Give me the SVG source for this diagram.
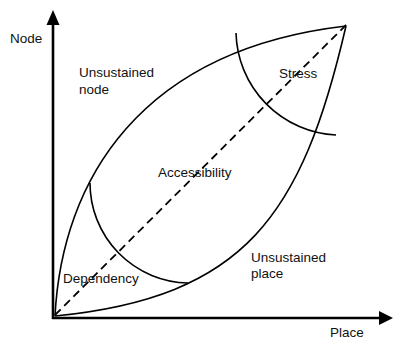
<svg xmlns="http://www.w3.org/2000/svg" width="393" height="339" viewBox="0 0 393 339">
<style>
.c{fill:none;stroke:#000;stroke-width:1.6}
.ax{fill:none;stroke:#000;stroke-width:2.6}
.d{fill:none;stroke:#000;stroke-width:1.8;stroke-dasharray:8 5}
text{font-family:"Liberation Sans",Arial,sans-serif;font-size:13.5px;fill:#111}
</style>
<rect width="393" height="339" fill="#fff"/>
<g id="axes">
<path class="ax" d="M53,319 V24"/>
<polygon points="53,10 46.5,25 59.5,25" fill="#000"/>
<path class="ax" d="M52,318 H380"/>
<polygon points="393,318 379,311 379,325" fill="#000"/>
</g>
<g id="connectors">
<path class="d" d="M55,315 L347,24"/>
<path class="c" d="M55,316 C62,180 140,50 346,26"/>
<path class="c" d="M55,316 C245,297 302,216 346,26"/>
<path class="c" d="M236,33 A105,105 0 0 0 336,135"/>
<path class="c" d="M90,183 A100,100 0 0 0 188,283"/>
</g>
<g id="labels">
<text x="10" y="43">Node</text>
<text x="79" y="77">Unsustained</text>
<text x="79" y="94">node</text>
<text x="279" y="78">Stress</text>
<text x="158" y="177">Accessibility</text>
<text x="63" y="283">Dependency</text>
<text x="251" y="262">Unsustained</text>
<text x="251" y="278">place</text>
<text x="330" y="337">Place</text>
</g>
</svg>
